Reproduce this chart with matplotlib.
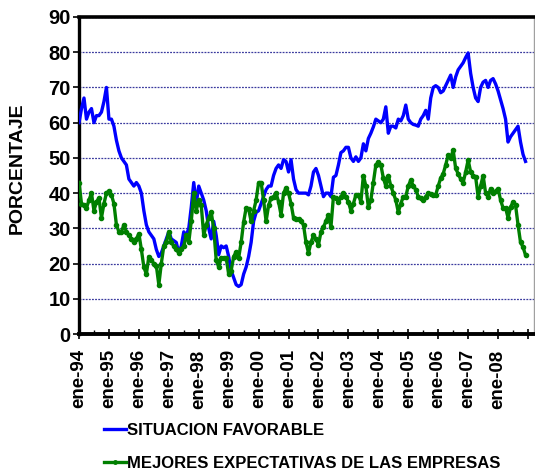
import matplotlib
matplotlib.use('Agg')
import matplotlib.pyplot as plt
from matplotlib.lines import Line2D
from matplotlib.ticker import MultipleLocator

plt.rcParams['font.family'] = ['Liberation Sans', 'DejaVu Sans']
plt.rcParams['font.weight'] = 'bold'

# Encuesta mensual, ene-94 a dic-08 (porcentaje de respuestas)
situacion_favorable = [
    60, 64, 67, 61, 63, 64, 60, 62, 62, 63, 66, 70,          # 1994
    61, 61, 59, 55, 52, 50, 49, 48, 44, 43, 42, 43,          # 1995
    42, 40, 35, 31, 29, 28, 27, 24, 22, 23, 25, 27,          # 1996
    29, 27, 26.5, 26, 23, 25, 29, 28, 30, 36, 43, 37,        # 1997
    42, 40, 38, 35, 30, 27, 32, 28, 22.5, 25, 24.5, 25,      # 1998
    22, 18, 16, 14, 13.5, 14, 17, 19, 22, 26, 32, 34.5,      # 1999
    35, 37, 39, 41, 42, 42, 45, 47, 48, 47, 49.5, 49,        # 2000
    46, 49.5, 44, 41, 40, 40, 40, 40, 39.5, 42, 46, 47,      # 2001
    45, 42, 39, 40, 40, 39, 44.5, 45, 48, 51.5, 52, 53,      # 2002
    53, 50, 49, 50.3, 49, 50, 54, 52, 55.5, 57, 58.8, 61,    # 2003
    60.5, 60, 61, 64.5, 57, 59, 59, 58.5, 61, 60.5, 62, 65,  # 2004
    61, 60, 59.5, 59.3, 59, 61, 62, 63.5, 61, 67, 70, 70.5,  # 2005
    70, 68.5, 69, 70.5, 72, 73.5, 70, 73, 75, 76, 77, 78.5,  # 2006
    79.8, 74, 70, 67, 66, 70, 71.5, 72, 70, 72, 72.5, 71,    # 2007
    69, 66.5, 64, 61, 54.5, 56, 57, 58, 59, 54.5, 51, 49,    # 2008
]
mejores_expectativas = [
    43, 37, 36.5, 35.8, 38, 40, 35, 37.5, 38.6, 33, 37, 40,       # 1994
    40.6, 39.5, 37, 31, 29, 29, 31, 29, 28, 27, 26, 27,           # 1995
    28.5, 24, 19, 17, 22, 21, 20, 19.4, 14, 20, 25, 26,           # 1996
    29, 26, 25, 24, 23, 24, 25, 28, 26, 32, 40, 35,               # 1997
    38, 36.6, 28, 31, 33, 34.6, 30, 21, 19, 21.6, 21.6, 21.6,     # 1998
    17, 18, 22, 23.3, 21.6, 26, 31.8, 35.8, 35.5, 32, 35, 38,     # 1999
    43, 43, 38, 32, 36.5, 38.6, 39, 40, 37.5, 33.8, 40, 41.5,     # 2000
    40, 37, 33, 32.7, 32.7, 32, 31, 26, 23, 26, 28, 27,           # 2001
    25.3, 29, 30.4, 32, 33.8, 30.4, 39, 38.6, 37.5, 39, 40, 39,   # 2002
    37.5, 35, 37, 39.5, 39.5, 37.5, 45, 42, 36, 38, 43, 48,       # 2003
    48.8, 48, 44.3, 42, 45, 42, 40, 38, 34.6, 37, 39, 39,         # 2004
    42, 43.7, 42, 41, 39, 38.6, 38, 39, 40, 39.7, 39.5, 39.5,     # 2005
    42, 44.3, 45.5, 48, 50.8, 50, 52.2, 47, 45.5, 44, 43, 46,     # 2006
    49.4, 46, 45, 44.6, 39, 42, 45, 40, 39, 41.3, 40, 40.5,       # 2007
    41.3, 38, 35.8, 35.8, 33, 36, 37.5, 36.6, 31, 26, 24.7, 22.4, # 2008
]
etiquetas_anio = ['ene-94', 'ene-95', 'ene-96', 'ene-97', 'ene-98', 'ene-99',
                  'ene-00', 'ene-01', 'ene-02', 'ene-03', 'ene-04', 'ene-05',
                  'ene-06', 'ene-07', 'ene-08']
series = ['SITUACION FAVORABLE', 'MEJORES EXPECTATIVAS DE LAS EMPRESAS']

meses = list(range(len(situacion_favorable)))

fig = plt.figure(figsize=(5.35, 4.75), dpi=100)
ax = fig.add_axes([79 / 535, 1 - 334 / 475, 455 / 535, 317 / 475])

ax.plot(meses, situacion_favorable, color='#0000FF', lw=2.4, zorder=3)
ax.plot(meses, mejores_expectativas, color='#007F00', lw=2.4,
        marker='o', markersize=3, zorder=4)

ax.set_ylim(0, 90)
ax.set_xlim(0, 182.4)
ax.yaxis.set_major_locator(MultipleLocator(10))
ax.set_xticks([12 * i for i in range(16)])
ax.set_xticklabels(etiquetas_anio + [''], rotation=90)
ax.xaxis.set_minor_locator(MultipleLocator(6))

ax.yaxis.grid(True, linestyle=(0, (1.5, 1)), color='#3a3a9e', lw=0.9)
ax.set_axisbelow(True)

for lado in ['left', 'bottom', 'top']:
    ax.spines[lado].set_color('black')
ax.spines['left'].set_linewidth(2.4)
ax.spines['bottom'].set_linewidth(2.8)
ax.spines['top'].set_linewidth(2.6)
ax.spines['right'].set_color('#a0a0a0')
ax.spines['right'].set_linewidth(1)

ax.tick_params(axis='y', labelsize=14.5, length=4, width=1.2, pad=2)
ax.tick_params(axis='x', which='major', labelsize=13.5, length=7,
               direction='inout', width=1.2, pad=7.5)
ax.tick_params(axis='x', which='minor', length=3, direction='in', width=1)

fig.text(17 / 535, 1 - 168 / 475, 'PORCENTAJE', rotation=90,
         ha='center', va='center', fontsize=14, fontweight='bold')

manejadores = [
    Line2D([], [], color='#0000FF', lw=2.4),
    Line2D([], [], color='#007F00', lw=2.4, marker='o', markersize=2.5),
]
fig.legend(manejadores, series, loc='upper left',
           bbox_to_anchor=(104 / 535, 1 - 423 / 475), frameon=False,
           borderpad=0, borderaxespad=0, handlelength=1.3,
           handletextpad=0.1, labelspacing=1.05,
           prop={'weight': 'bold', 'size': 12})

fig.savefig('out.png', dpi=100)
